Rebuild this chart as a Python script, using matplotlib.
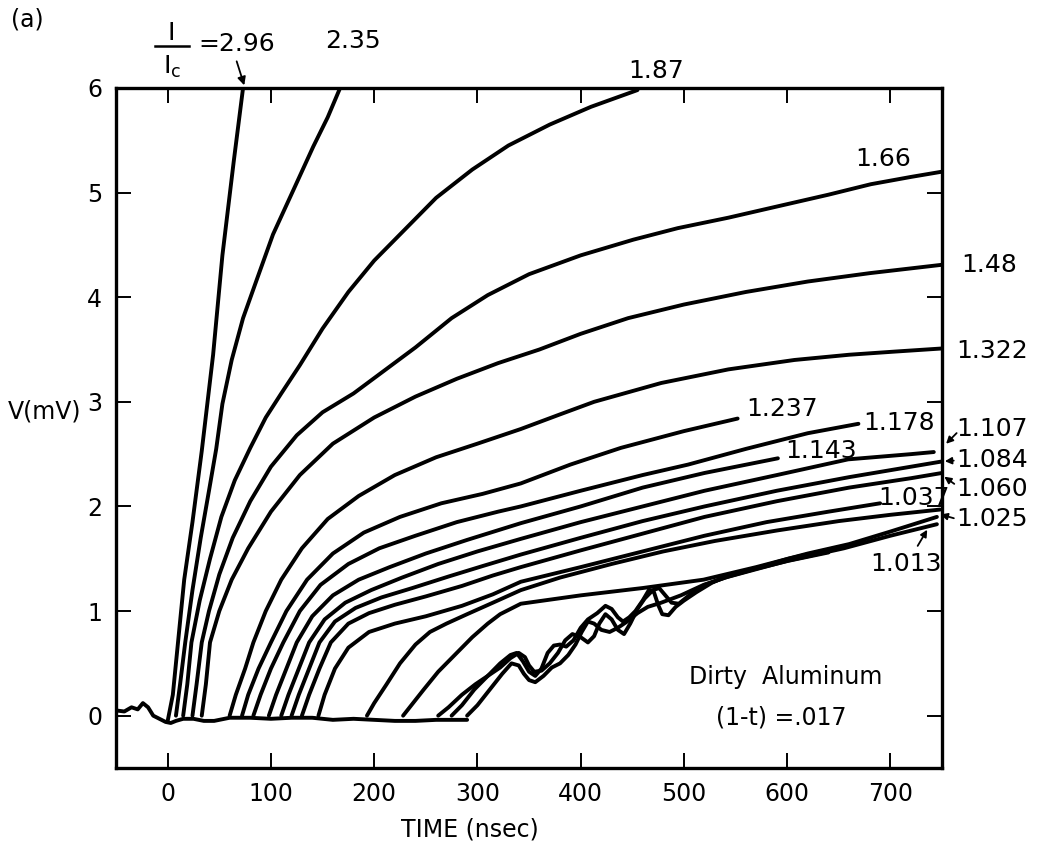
import matplotlib
matplotlib.use("Agg")
from matplotlib import pyplot as plt

# shared pre-trigger baseline
base_t = [-50, -42, -35, -29, -24, -19, -14, -8, -2, 3, 8, 15, 25, 35, 45, 60, 80, 100,
          120, 140, 160, 180, 200, 220, 240, 260, 275, 290]
base_v = [0.05, 0.04, 0.08, 0.06, 0.12, 0.08, 0.0, -0.03, -0.06, -0.07, -0.05, -0.03, -0.03,
          -0.05, -0.05, -0.02, -0.02, -0.03, -0.02, -0.02, -0.04, -0.03, -0.04, -0.05, -0.05,
          -0.04, -0.04, -0.04]

# I/Ic = 2.96
t_296 = [0, 5, 10, 16, 24, 33, 44, 53, 64, 73]
v_296 = [-0.05, 0.2, 0.7, 1.3, 1.85, 2.53, 3.45, 4.4, 5.3, 6.0]
# 2.35
t_235 = [8, 12, 17, 24, 32, 40, 47, 53, 62, 73, 86, 102, 122, 141, 155, 167]
v_235 = [0, 0.3, 0.7, 1.2, 1.7, 2.15, 2.55, 2.98, 3.4, 3.8, 4.16, 4.6, 5.03, 5.44, 5.72, 6.0]
# 1.87
t_187 = [15, 19, 23, 31, 41, 52, 65, 80, 95, 110, 128, 150, 175, 200, 230, 260, 295, 330, 370,
         410, 455]
v_187 = [0, 0.3, 0.7, 1.1, 1.5, 1.9, 2.25, 2.56, 2.85, 3.08, 3.35, 3.7, 4.05, 4.35, 4.65, 4.95,
         5.22, 5.45, 5.65, 5.82, 5.98]
# 1.66
t_166 = [24, 28, 33, 40, 50, 63, 80, 100, 125, 150, 180, 210, 240, 275, 310, 350, 400, 451,
         494, 543, 587, 640, 681, 720, 750]
v_166 = [0, 0.3, 0.7, 1.0, 1.35, 1.7, 2.05, 2.38, 2.68, 2.9, 3.08, 3.3, 3.52, 3.8, 4.02, 4.22,
         4.4, 4.55, 4.66, 4.76, 4.86, 4.98, 5.08, 5.15, 5.2]
# 1.48
t_148 = [33, 37, 41, 50, 62, 78, 100, 128, 160, 200, 240, 280, 320, 360, 400, 446, 500, 560,
         620, 680, 750]
v_148 = [0, 0.3, 0.7, 1.0, 1.3, 1.6, 1.95, 2.3, 2.6, 2.85, 3.05, 3.22, 3.37, 3.5, 3.65, 3.8,
         3.93, 4.05, 4.15, 4.23, 4.31]
# 1.322
t_1322 = [60, 66, 75, 83, 95, 110, 130, 155, 185, 220, 260, 300, 342, 380, 413, 478, 543,
          607, 660, 704, 750]
v_1322 = [0, 0.2, 0.45, 0.7, 1.0, 1.3, 1.6, 1.88, 2.1, 2.3, 2.47, 2.6, 2.74, 2.88, 3.0, 3.18,
          3.31, 3.4, 3.45, 3.48, 3.51]
# 1.237
t_1237 = [72, 78, 88, 100, 115, 135, 160, 190, 225, 265, 305, 342, 390, 439, 500, 552]
v_1237 = [0, 0.2, 0.45, 0.7, 1.0, 1.3, 1.55, 1.75, 1.9, 2.03, 2.12, 2.22, 2.4, 2.56, 2.72, 2.84]
# 1.178
t_1178 = [83, 90, 100, 112, 128, 148, 175, 205, 240, 280, 320, 342, 400, 460, 504, 560, 620, 669]
v_1178 = [0, 0.2, 0.45, 0.7, 1.0, 1.25, 1.45, 1.6, 1.72, 1.85, 1.95, 2.0, 2.15, 2.3, 2.4,
          2.55, 2.7, 2.79]
# 1.143
t_1143 = [98, 105, 115, 125, 140, 160, 185, 215, 250, 290, 342, 400, 460, 520, 591]
v_1143 = [0, 0.2, 0.45, 0.7, 0.95, 1.15, 1.3, 1.42, 1.55, 1.68, 1.84, 2.0, 2.18, 2.32, 2.46]
# 1.107
t_1107 = [110, 117, 127, 137, 152, 172, 197, 227, 262, 300, 342, 400, 460, 520, 590, 659, 720, 742]
v_1107 = [0, 0.2, 0.45, 0.7, 0.92, 1.08, 1.2, 1.32, 1.45, 1.57, 1.69, 1.85, 2.0, 2.15, 2.3,
          2.45, 2.5, 2.52]
# 1.084
t_1084 = [120, 127, 137, 147, 162, 182, 207, 237, 272, 305, 342, 400, 460, 520, 590, 660, 720, 750]
v_1084 = [0, 0.2, 0.45, 0.7, 0.9, 1.03, 1.13, 1.22, 1.33, 1.43, 1.54, 1.7, 1.86, 2.0, 2.15,
          2.28, 2.38, 2.43]
# 1.060
t_1060 = [130, 137, 147, 158, 175, 195, 220, 250, 285, 315, 342, 400, 460, 520, 590, 660, 720, 750]
v_1060 = [0, 0.2, 0.45, 0.7, 0.88, 0.98, 1.06, 1.14, 1.24, 1.34, 1.42, 1.58, 1.74, 1.9, 2.05,
          2.18, 2.27, 2.32]
# 1.037
t_1037 = [146, 152, 162, 175, 195, 220, 250, 285, 315, 342, 400, 460, 520, 580, 640, 690]
v_1037 = [0, 0.2, 0.45, 0.65, 0.8, 0.88, 0.95, 1.05, 1.16, 1.28, 1.42, 1.57, 1.72, 1.85, 1.95, 2.03]
# 1.025
t_1025 = [193, 200, 212, 225, 240, 254, 270, 290, 315, 342, 380, 430, 480, 530, 590, 650, 700, 748]
v_1025 = [0, 0.12, 0.3, 0.5, 0.68, 0.8, 0.88, 0.97, 1.08, 1.2, 1.32, 1.45, 1.57, 1.67, 1.77,
          1.86, 1.92, 1.97]
# unlabeled, joins the 1.025 arrow
t_u1 = [228, 236, 248, 262, 278, 295, 310, 322, 342, 400, 460, 519, 570, 620, 660, 700, 745]
v_u1 = [0, 0.1, 0.25, 0.42, 0.58, 0.75, 0.88, 0.97, 1.07, 1.15, 1.22, 1.3, 1.42, 1.55, 1.64,
        1.76, 1.9]
# 1.013 and the noisy traces that merge into it
t_1013 = [262, 272, 285, 298, 310, 322, 332, 340, 346, 350, 355, 362, 370, 378, 385, 392, 400,
          407, 413, 418, 424, 430, 436, 442, 448, 455, 462, 470, 476, 482, 488, 495, 505, 520,
          540, 570, 600, 655, 700, 745]
v_1013 = [0, 0.08, 0.2, 0.3, 0.38, 0.46, 0.55, 0.6, 0.56, 0.48, 0.42, 0.43, 0.5, 0.6, 0.72,
          0.78, 0.75, 0.7, 0.76, 0.88, 0.97, 0.92, 0.82, 0.78, 0.88, 1.02, 1.12, 1.2, 1.22, 1.15,
          1.08, 1.07, 1.15, 1.25, 1.32, 1.4, 1.48, 1.6, 1.72, 1.83]
t_u2 = [275, 285, 297, 310, 322, 332, 338, 344, 350, 356, 362, 368, 374, 380, 386, 393, 400,
        407, 416, 424, 430, 436, 441, 447, 453, 460, 466, 471, 475, 479, 485, 492, 500, 512,
        527, 545, 570, 601, 655]
v_u2 = [0, 0.1, 0.25, 0.38, 0.5, 0.58, 0.6, 0.52, 0.42, 0.38, 0.45, 0.6, 0.67, 0.68, 0.66,
        0.72, 0.84, 0.92, 0.98, 1.05, 1.02, 0.94, 0.9, 0.94, 1.0, 1.1, 1.2, 1.18, 1.06, 0.97,
        0.96, 1.04, 1.1, 1.18, 1.27, 1.35, 1.41, 1.5, 1.62]
t_u3 = [290, 300, 312, 324, 333, 340, 345, 350, 356, 364, 372, 380, 388, 395, 401, 407, 413,
        420, 428, 436, 445, 455, 465, 478, 497, 519, 543, 568, 601, 640]
v_u3 = [0, 0.1, 0.25, 0.4, 0.5, 0.48, 0.4, 0.34, 0.32, 0.38, 0.46, 0.5, 0.58, 0.68, 0.8, 0.9,
        0.88, 0.82, 0.8, 0.84, 0.9, 0.98, 1.04, 1.08, 1.15, 1.25, 1.33, 1.4, 1.48, 1.56]

curves = [(t_296, v_296), (t_235, v_235), (t_187, v_187), (t_166, v_166), (t_148, v_148),
          (t_1322, v_1322), (t_1237, v_1237), (t_1178, v_1178), (t_1143, v_1143),
          (t_1107, v_1107), (t_1084, v_1084), (t_1060, v_1060), (t_1037, v_1037),
          (t_1025, v_1025), (t_u1, v_u1), (t_1013, v_1013), (t_u2, v_u2), (t_u3, v_u3)]

# curve labels: text, anchor (t, V), alignment
labels = [("2.35", 179, 6.45, "center"), ("1.87", 473, 6.16, "center"),
          ("1.66", 693, 5.32, "center"), ("1.48", 769, 4.31, "left"),
          ("1.322", 764, 3.49, "left"), ("1.237", 560, 2.93, "left"),
          ("1.178", 674, 2.80, "left"), ("1.143", 598, 2.53, "left"),
          ("1.107", 764, 2.74, "left"), ("1.084", 764, 2.44, "left"),
          ("1.060", 764, 2.17, "left"), ("1.037", 688, 2.08, "left"),
          ("1.025", 764, 1.88, "left"), ("1.013", 680, 1.45, "left")]

xticks = [0, 100, 200, 300, 400, 500, 600, 700]
yticks = [0, 1, 2, 3, 4, 5, 6]

plt.rcParams['font.family'] = ['DejaVu Sans']
fig = plt.figure(figsize=(10.39, 8.5), dpi=100)
ax = fig.add_axes([0.1117, 0.0965, 0.795, 0.80])

lw = 2.8
ax.plot(base_t, base_v, color='black', lw=lw, solid_joinstyle='round', solid_capstyle='round')
for t, v in curves:
    ax.plot(t, v, color='black', lw=lw, solid_joinstyle='round', solid_capstyle='round')

ax.set_xlim(-50, 750)
ax.set_ylim(-0.5, 6)
ax.set_xticks(xticks)
ax.set_yticks(yticks)
ax.tick_params(direction='in', length=11, width=1.4, top=True, right=True,
               labelsize=17, pad=10)
for s in ax.spines.values():
    s.set_linewidth(2.4)

for txt, x, y, ha in labels:
    ax.text(x, y, txt, fontsize=18, ha=ha, va='center', clip_on=False)

# I/Ic = 2.96
ax.text(3.9, 6.53, "I", fontsize=18, ha='center', va='center', clip_on=False)
ax.plot([-12.6, 21], [6.4, 6.4], color='black', lw=1.8, clip_on=False)
ax.text(3.9, 6.2, "I$_\\mathregular{c}$", fontsize=18, ha='center', va='center', clip_on=False)
ax.text(30, 6.42, "=2.96", fontsize=18, ha='left', va='center', clip_on=False)
ax.annotate("", xy=(75, 6.0), xytext=(66, 6.28), annotation_clip=False,
            arrowprops=dict(arrowstyle='-|>', color='black', lw=1.3, mutation_scale=12))

# small pointer arrows at the right edge
ax.annotate("", xy=(752, 2.58), xytext=(766, 2.72), annotation_clip=False,
            arrowprops=dict(arrowstyle='-|>', color='black', lw=1.3, mutation_scale=10))
ax.annotate("", xy=(750, 2.43), xytext=(764, 2.44), annotation_clip=False,
            arrowprops=dict(arrowstyle='-|>', color='black', lw=1.3, mutation_scale=10))
ax.annotate("", xy=(750, 2.3), xytext=(764, 2.2), annotation_clip=False,
            arrowprops=dict(arrowstyle='-|>', color='black', lw=1.3, mutation_scale=10))
ax.annotate("", xy=(746, 1.93), xytext=(764, 1.88), annotation_clip=False,
            arrowprops=dict(arrowstyle='-|>', color='black', lw=1.3, mutation_scale=10))
ax.annotate("", xy=(737, 1.8), xytext=(725, 1.6), annotation_clip=False,
            arrowprops=dict(arrowstyle='-|>', color='black', lw=1.3, mutation_scale=10))

ax.text(599, 0.37, "Dirty  Aluminum", fontsize=17, ha='center', va='center')
ax.text(594, -0.02, "(1-t) =.017", fontsize=17, ha='center', va='center')

fig.text(45 / 1039, 1 - 412 / 850, "V(mV)", fontsize=17, ha='center', va='center')
fig.text(470 / 1039, 1 - 830 / 850, "TIME (nsec)", fontsize=17, ha='center', va='center')
fig.text(27 / 1039, 1 - 20 / 850, "(a)", fontsize=17, ha='center', va='center')

fig.savefig("out.png", dpi=100)
